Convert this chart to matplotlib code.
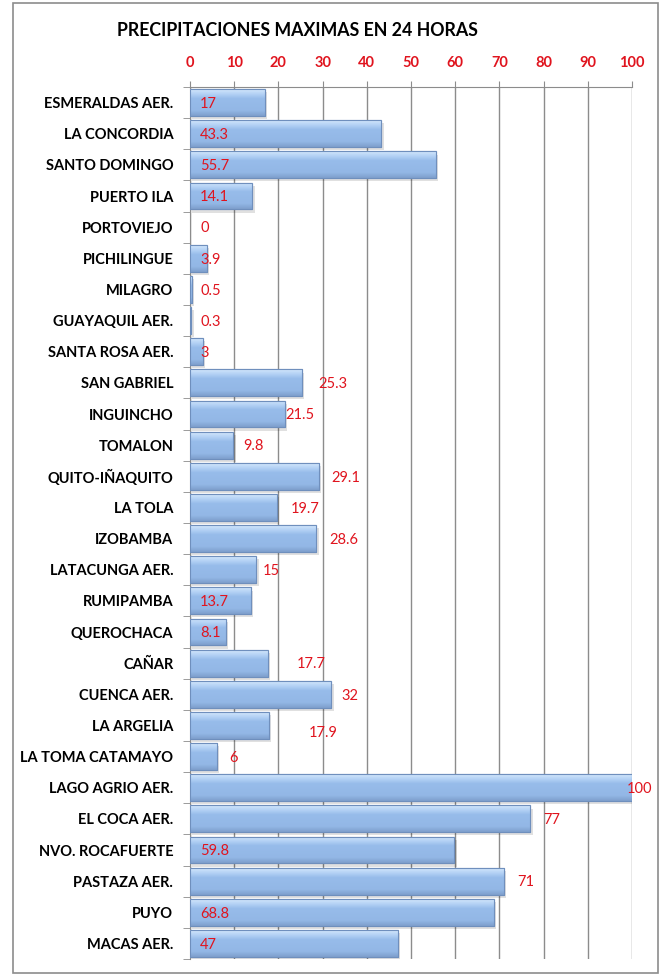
import numpy as np
import matplotlib
matplotlib.use("Agg")
import matplotlib.pyplot as plt
from matplotlib.patches import Rectangle
from matplotlib.colors import LinearSegmentedColormap

title = "PRECIPITACIONES MAXIMAS EN 24 HORAS"
stations = ["ESMERALDAS AER.", "LA CONCORDIA", "SANTO DOMINGO", "PUERTO ILA",
            "PORTOVIEJO", "PICHILINGUE", "MILAGRO", "GUAYAQUIL AER.",
            "SANTA ROSA AER.", "SAN GABRIEL", "INGUINCHO", "TOMALON",
            "QUITO-IÑAQUITO", "LA TOLA", "IZOBAMBA", "LATACUNGA AER.",
            "RUMIPAMBA", "QUEROCHACA", "CAÑAR", "CUENCA AER.", "LA ARGELIA",
            "LA TOMA CATAMAYO", "LAGO AGRIO AER.", "EL COCA AER.",
            "NVO. ROCAFUERTE", "PASTAZA AER.", "PUYO", "MACAS AER."]
values = [17, 43.3, 55.7, 14.1, 0, 3.9, 0.5, 0.3, 3, 25.3, 21.5, 9.8, 29.1,
          19.7, 28.6, 15, 13.7, 8.1, 17.7, 32, 17.9, 6, 100, 77, 59.8, 71,
          68.8, 47]
value_texts = ["17", "43.3", "55.7", "14.1", "0", "3.9", "0.5", "0.3", "3",
               "25.3", "21.5", "9.8", "29.1", "19.7", "28.6", "15", "13.7",
               "8.1", "17.7", "32", "17.9", "6", "100", "77", "59.8", "71",
               "68.8", "47"]
xticks = [0, 10, 20, 30, 40, 50, 60, 70, 80, 90, 100]

# label placement (style): None -> inside at left, number -> offset past bar end
label_offset = [None, None, None, None, None, None, None, None, None,
                3.7, 0.0, 2.2, 2.8, 3.2, 2.9, 1.5, None, None, 6.5, 2.2, 9.0,
                2.8, -1.3, 2.9, None, 3.0, None, None]
label_dy = [0.0] * 28
label_dy[20] = 0.2

fig = plt.figure(figsize=(6.65, 9.74), dpi=100)
W, H = 665, 974
ax = fig.add_axes([190 / W, 1 - 959 / H, (632 - 190) / W, (959 - 87) / H])

# outer frame
fig.patches.append(Rectangle((13 / W, 1 - 973 / H), (658 - 13) / W, (973 - 3) / H,
                             transform=fig.transFigure, fill=False,
                             edgecolor="#8C8C8C", lw=1.2, zorder=0))

n = len(stations)
ypos = np.arange(n)
bh = 0.86
grad = LinearSegmentedColormap.from_list(
    "g", [(0, "#D2E6FB"), (0.18, "#B3D1F5"), (0.35, "#97BCEA"),
          (0.8, "#93B7E6"), (1.0, "#7E9FCC")])
gimg = np.linspace(0, 1, 64).reshape(-1, 1)

ax.set_xlim(0, 100)
ax.set_ylim(n - 0.5, -0.5)

for y, v in zip(ypos, values):
    if v <= 0:
        continue
    ax.add_patch(Rectangle((0.5, y - bh / 2 + 0.1), v, bh, facecolor="#000000",
                           alpha=0.12, lw=0, zorder=2))
    bar = ax.barh(y, v, height=bh, color="#95B9E7", edgecolor="#6F8FBD",
                  lw=0.8, zorder=3)[0]
    im = ax.imshow(gimg, cmap=grad, aspect="auto",
                   extent=[0, v, y + bh / 2, y - bh / 2], zorder=3.5,
                   interpolation="bilinear")
    im.set_clip_path(bar)
    ax.add_patch(Rectangle((0, y - bh / 2), v, bh, fill=False,
                           edgecolor="#6F8FBD", lw=0.8, zorder=4))
ax.set_xlim(0, 100)
ax.set_ylim(n - 0.5, -0.5)

for y, v, t, off, dy in zip(ypos, values, value_texts, label_offset, label_dy):
    x = 2.3 if off is None else v + off
    ax.text(x, y + dy + 0.04, t, color="#E0141E", fontsize=10.5, ha="left",
            va="center", family="Lato", zorder=6)

ax.xaxis.tick_top()
ax.set_xticks(xticks)
ax.set_xticklabels([str(t) for t in xticks], color="#E0141E",
                   fontweight="bold", fontsize=10.5, family="Lato")
ax.tick_params(axis="x", length=4, color="#8C8C8C", pad=8)
ax.set_yticks(ypos)
ax.set_yticklabels(stations, fontweight="bold", fontsize=10.5, family="Lato")
ax.tick_params(axis="y", which="major", length=0, pad=12)
ax.set_yticks(np.arange(-0.5, n, 1), minor=True)
ax.tick_params(axis="y", which="minor", length=5, color="#8C8C8C")
ax.grid(axis="x", color="#8C8C8C", lw=1, zorder=1)
ax.set_axisbelow(True)
for s in ["right", "bottom"]:
    ax.spines[s].set_visible(False)
for s in ["left", "top"]:
    ax.spines[s].set_color("#8C8C8C")

fig.text(297 / W, 1 - 30 / H, title, ha="center", va="center",
         fontweight="bold", fontsize=12.8, family="Lato")

fig.savefig("out.png", dpi=100)
